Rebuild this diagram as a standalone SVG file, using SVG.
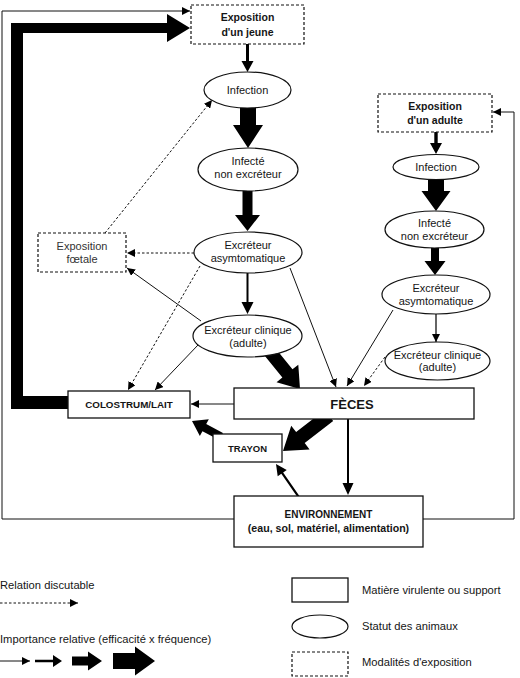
<svg xmlns="http://www.w3.org/2000/svg" width="520" height="678" viewBox="0 0 520 678">
<defs>
<style>
.box{fill:#fff;stroke:#111;stroke-width:1.3}
.dbox{fill:#fff;stroke:#111;stroke-width:1.2;stroke-dasharray:3 2}
.ell{fill:#fff;stroke:#111;stroke-width:1.2}
.t{font-family:"Liberation Sans",Arial,sans-serif;font-size:11px;text-anchor:middle;fill:#151515}
.b{font-weight:bold;font-size:10.5px}
.lg{font-family:"Liberation Sans",Arial,sans-serif;font-size:11.2px;fill:#151515}
.ln{fill:none;stroke:#111;stroke-width:1;marker-end:url(#ah)}
.dsh{stroke-dasharray:2.5 2}
.fa{fill:#000;stroke:none}
</style>
<marker id="ah" markerUnits="userSpaceOnUse" markerWidth="9" markerHeight="8" refX="8" refY="4" orient="auto">
<path d="M0,0 L8,4 L0,8 Z" fill="#000"/>
</marker>
</defs>

<g id="connectors">
<!-- outer frame lines -->
<path class="ln" d="M234,519 L2,519 L2,11 L190,11"/>
<path class="ln" d="M423,519 L514,519 L514,112 L493,112"/>
<!-- big return arrow colostrum -> exposition jeune -->
<path class="fa" d="M68,396 L23,396 L23,33 L167,33 L167,42 L190,28 L167,14 L167,23 L11,23 L11,409 L68,409 Z"/>
<!-- jeune column -->
<polygon class="fa" points="246,44 249,44 249,61 253.5,61 247.5,72 241.5,61 246,61"/>
<polygon class="fa" points="240,107 256,107 256,125 263,125 248,148 233,125 240,125"/>
<polygon class="fa" points="242.5,190 252.5,190 252.5,215 260,215 247.5,231 235,215 242.5,215"/>
<polygon class="fa" points="246.5,273 248.5,273 248.5,302 253.5,302 247.5,314 241.5,302 246.5,302"/>
<!-- adulte column -->
<polygon class="fa" points="434.3,132 437.7,132 437.7,143 442,143 436,154 430,143 434.3,143"/>
<polygon class="fa" points="428,179 444,179 444,191 450.5,191 436,211 421.5,191 428,191"/>
<polygon class="fa" points="431,247 439,247 439,261 445.5,261 435,275 424.5,261 431,261"/>
<path class="ln" style="stroke-width:1.3" d="M436,314 L436,342"/>
<!-- thin / dashed -->
<path class="ln dsh" d="M105,233 L212,100"/>
<path class="ln dsh" d="M194,253 L127,253"/>
<path class="ln dsh" d="M200,266 L128,390"/>
<path class="ln" d="M201,321 L127,268"/>
<path class="ln" d="M198,345 L155,390"/>
<path class="ln" d="M290,268 L336,387"/>
<path class="ln" d="M393,310 L347,386"/>
<path class="ln dsh" d="M385,357 L364,386"/>
<path class="ln" d="M234,404 L191,404"/>
<!-- thick diagonals -->
<polygon class="fa" transform="translate(300,389) rotate(51)" points="-50,-6.5 -20,-6.5 -20,-14 0,0 -20,14 -20,6.5 -50,6.5"/>
<polygon class="fa" transform="translate(283,451) rotate(142.3)" points="-58,-7 -22,-7 -22,-15 0,0 -22,15 -22,7 -58,7"/>
<polygon class="fa" transform="translate(192,421) rotate(208.2)" points="-33,-4 -14,-4 -14,-9.5 0,0 -14,9.5 -14,4 -33,4"/>
<polygon class="fa" transform="translate(276,464) rotate(235.5)" points="-40,-1.1 -11,-1.1 -11,-5.5 0,0 -11,5.5 -11,1.1 -40,1.1"/>
<polygon class="fa" points="347,419 349,419 349,483 353.5,483 348,495 342.5,483 347,483"/>
</g>

<g id="exposition-jeune">
<rect class="dbox" x="191" y="5" width="113" height="39"/>
<text class="t b" x="247.5" y="21">Exposition</text>
<text class="t b" x="247.5" y="36">d'un jeune</text>
</g>
<g id="infection-jeune">
<ellipse class="ell" cx="247.5" cy="90" rx="43.5" ry="18"/>
<text class="t" x="247.5" y="94">Infection</text>
</g>
<g id="infecte-jeune">
<ellipse class="ell" cx="248" cy="169.5" rx="50" ry="21.5"/>
<text class="t" x="248" y="165">Infecté</text>
<text class="t" x="248" y="178">non excréteur</text>
</g>
<g id="asympto-jeune">
<ellipse class="ell" cx="248" cy="252.5" rx="54" ry="20.5"/>
<text class="t" x="248" y="249">Excréteur</text>
<text class="t" x="248" y="262">asymtomatique</text>
</g>
<g id="clinique-jeune">
<ellipse class="ell" cx="247.5" cy="336" rx="54.5" ry="21"/>
<text class="t" x="248" y="334">Excréteur clinique</text>
<text class="t" x="248" y="347">(adulte)</text>
</g>
<g id="exposition-foetale">
<rect class="dbox" x="38" y="233" width="88" height="39"/>
<text class="t" x="82" y="250" style="fill:#333">Exposition</text>
<text class="t" x="82" y="263" style="fill:#333">fœtale</text>
</g>
<g id="exposition-adulte">
<rect class="dbox" x="378" y="94" width="114" height="38"/>
<text class="t b" x="435" y="110">Exposition</text>
<text class="t b" x="435" y="124">d'un adulte</text>
</g>
<g id="infection-adulte">
<ellipse class="ell" cx="436" cy="167" rx="43" ry="12.5"/>
<text class="t" x="436" y="171">Infection</text>
</g>
<g id="infecte-adulte">
<ellipse class="ell" cx="434.5" cy="229.5" rx="49.5" ry="18.5"/>
<text class="t" x="434.5" y="227">Infecté</text>
<text class="t" x="434.5" y="240">non excréteur</text>
</g>
<g id="asympto-adulte">
<ellipse class="ell" cx="436" cy="294.5" rx="54" ry="19.5"/>
<text class="t" x="436" y="292">Excréteur</text>
<text class="t" x="436" y="305">asymtomatique</text>
</g>
<g id="clinique-adulte">
<ellipse class="ell" cx="437.5" cy="361" rx="52.5" ry="19"/>
<text class="t" x="437.5" y="359">Excréteur clinique</text>
<text class="t" x="437.5" y="371">(adulte)</text>
</g>
<g id="colostrum">
<rect class="box" x="68" y="391" width="122" height="27"/>
<text class="t b" x="129" y="408" style="font-size:9.8px">COLOSTRUM/LAIT</text>
</g>
<g id="feces">
<rect class="box" x="234" y="388" width="240" height="31"/>
<text class="t b" x="352" y="409" style="font-size:13px">FÈCES</text>
</g>
<g id="trayon">
<rect class="box" x="213" y="434" width="69" height="28"/>
<text class="t b" x="247.5" y="452" style="font-size:9.5px">TRAYON</text>
</g>
<g id="environnement">
<rect class="box" x="234" y="496" width="189" height="51"/>
<text class="t b" x="328.5" y="518" style="font-size:10px">ENVIRONNEMENT</text>
<text class="t b" x="328.5" y="532" style="font-size:10.6px">(eau, sol, matériel, alimentation)</text>
</g>

<g id="legend">
<text class="lg" x="0" y="589">Relation discutable</text>
<path class="ln dsh" d="M0,603 L78,603"/>
<text class="lg" x="0" y="643">Importance relative (efficacité x fréquence)</text>
<path class="ln" d="M0,661 L30,661"/>
<polygon class="fa" points="35,659.8 53,659.8 53,655 62,661 53,667 53,662.2 35,662.2"/>
<polygon class="fa" points="72,656.5 88,656.5 88,651.5 102,661 88,670.5 88,665.5 72,665.5"/>
<polygon class="fa" points="113,653 135,653 135,646.5 155,661 135,675.5 135,669 113,669"/>
<rect class="box" x="292" y="578" width="56" height="24"/>
<text class="lg" x="362" y="594">Matière virulente ou support</text>
<ellipse class="ell" cx="320" cy="626.5" rx="28" ry="11.5"/>
<text class="lg" x="362" y="630">Statut des animaux</text>
<rect class="dbox" x="292" y="652" width="56" height="24"/>
<text class="lg" x="362" y="666">Modalités d'exposition</text>
</g>
</svg>
